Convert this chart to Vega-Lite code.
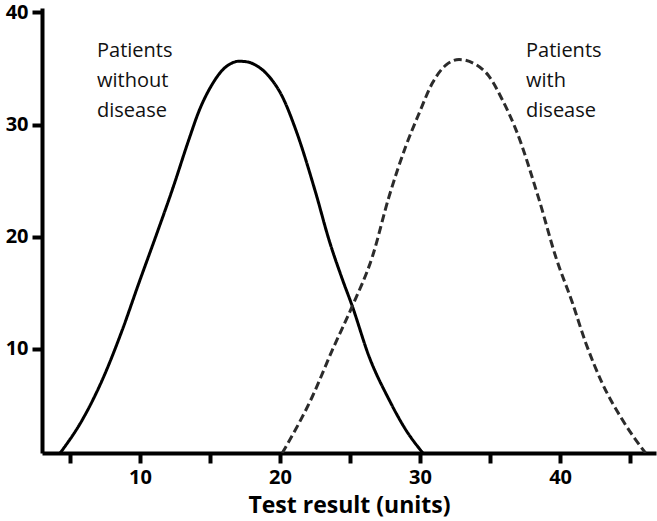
{
  "$schema": "https://vega.github.io/schema/vega-lite/v6.json",
  "autosize": "none",
  "padding": {"left": 42, "top": 8, "right": 1, "bottom": 68},
  "width": 614,
  "height": 445,
  "background": "white",
  "config": {
    "view": {"stroke": null},
    "axis": {
      "grid": false,
      "domainColor": "black",
      "domainWidth": 4,
      "tickColor": "black",
      "tickWidth": 4,
      "tickSize": 10,
      "labelFont": "Open Sans",
      "labelFontWeight": "bold",
      "labelFontSize": 20,
      "labelColor": "black",
      "titleFont": "Open Sans",
      "titleFontWeight": "bold",
      "titleFontSize": 23,
      "titleColor": "black"
    }
  },
  "datasets": {
    "curves": [
      {"group": "without", "result": 4.3, "count": 0.7},
      {"group": "without", "result": 5.88, "count": 3.66},
      {"group": "without", "result": 7.31, "count": 7.23},
      {"group": "without", "result": 8.74, "count": 11.7},
      {"group": "without", "result": 9.93, "count": 15.9},
      {"group": "without", "result": 11.12, "count": 20.0},
      {"group": "without", "result": 12.31, "count": 24.2},
      {"group": "without", "result": 13.5, "count": 28.7},
      {"group": "without", "result": 14.21, "count": 31.2},
      {"group": "without", "result": 15.16, "count": 33.6},
      {"group": "without", "result": 15.88, "count": 34.85},
      {"group": "without", "result": 16.5, "count": 35.45},
      {"group": "without", "result": 17.07, "count": 35.65},
      {"group": "without", "result": 17.7, "count": 35.58},
      {"group": "without", "result": 18.26, "count": 35.3},
      {"group": "without", "result": 19.21, "count": 34.3},
      {"group": "without", "result": 20.16, "count": 32.5},
      {"group": "without", "result": 21.12, "count": 29.55},
      {"group": "without", "result": 22.55, "count": 23.9},
      {"group": "without", "result": 23.5, "count": 19.7},
      {"group": "without", "result": 24.45, "count": 16.2},
      {"group": "without", "result": 25.16, "count": 13.8},
      {"group": "without", "result": 26.36, "count": 9.3},
      {"group": "without", "result": 27.79, "count": 5.45},
      {"group": "without", "result": 28.98, "count": 2.77},
      {"group": "without", "result": 30.2, "count": 0.7},
      {"group": "with", "result": 20.16, "count": 0.7},
      {"group": "with", "result": 22.31, "count": 5.74},
      {"group": "with", "result": 23.74, "count": 9.9},
      {"group": "with", "result": 25.16, "count": 13.8},
      {"group": "with", "result": 26.59, "count": 18.2},
      {"group": "with", "result": 27.79, "count": 23.6},
      {"group": "with", "result": 28.98, "count": 28.06},
      {"group": "with", "result": 29.93, "count": 31.0},
      {"group": "with", "result": 30.88, "count": 33.7},
      {"group": "with", "result": 31.84, "count": 35.3},
      {"group": "with", "result": 32.79, "count": 35.8},
      {"group": "with", "result": 33.98, "count": 35.36},
      {"group": "with", "result": 34.93, "count": 34.3},
      {"group": "with", "result": 35.88, "count": 32.2},
      {"group": "with", "result": 36.83, "count": 29.6},
      {"group": "with", "result": 38.5, "count": 23.3},
      {"group": "with", "result": 39.69, "count": 18.2},
      {"group": "with", "result": 40.88, "count": 14.1},
      {"group": "with", "result": 41.84, "count": 10.5},
      {"group": "with", "result": 43.02, "count": 6.9},
      {"group": "with", "result": 44.45, "count": 3.66},
      {"group": "with", "result": 46.1, "count": 0.7}
    ],
    "labels": [
      {"text": "Patients\nwithout\ndisease", "result": 6.93, "count": 36.07},
      {"text": "Patients\nwith\ndisease", "result": 37.57, "count": 36.07}
    ]
  },
  "layer": [
    {
      "data": {"name": "curves"},
      "mark": {"type": "line", "interpolate": "monotone", "strokeWidth": 3, "clip": true},
      "encoding": {
        "x": {
          "field": "result",
          "type": "quantitative",
          "scale": {"domain": [3, 46.85], "nice": false, "zero": false},
          "axis": {
            "title": "Test result (units)",
            "values": [5, 10, 15, 20, 25, 30, 35, 40, 45],
            "labelExpr": "datum.value % 10 == 0 ? datum.label : ''",
            "labelPadding": 4,
            "titlePadding": 7
          }
        },
        "y": {
          "field": "count",
          "type": "quantitative",
          "scale": {"domain": [0.7, 40.4], "nice": false, "zero": false},
          "axis": {"title": null, "values": [10, 20, 30, 40], "labelPadding": 4}
        },
        "color": {
          "field": "group",
          "type": "nominal",
          "scale": {"domain": ["without", "with"], "range": ["#000000", "#2b2b2b"]},
          "legend": null
        },
        "strokeDash": {
          "field": "group",
          "type": "nominal",
          "scale": {"domain": ["without", "with"], "range": [[1, 0], [8, 4]]},
          "legend": null
        }
      }
    },
    {
      "data": {"name": "labels"},
      "mark": {
        "type": "text",
        "align": "left",
        "baseline": "alphabetic",
        "font": "Open Sans",
        "fontSize": 20,
        "lineHeight": 30,
        "lineBreak": "\n",
        "color": "#111111"
      },
      "encoding": {
        "x": {"field": "result", "type": "quantitative"},
        "y": {"field": "count", "type": "quantitative"},
        "text": {"field": "text"}
      }
    }
  ]
}
